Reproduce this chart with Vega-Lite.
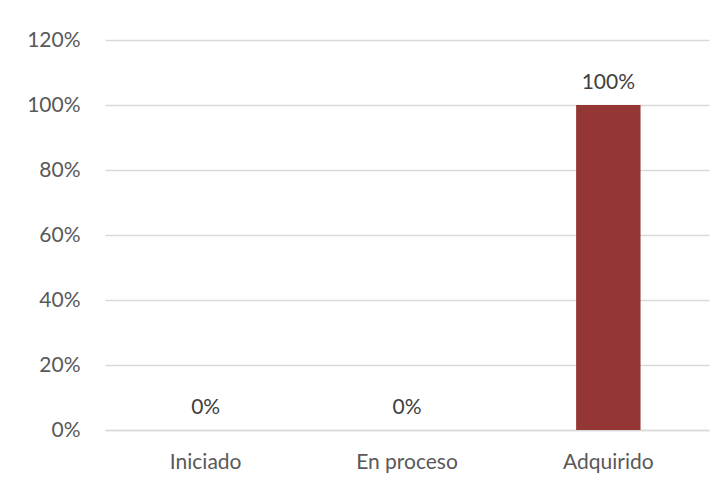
{
  "$schema": "https://vega.github.io/schema/vega-lite/v6.json",
  "width": 604,
  "height": 390,
  "autosize": {"type": "none"},
  "padding": {"left": 105, "top": 40, "right": 18, "bottom": 57},
  "background": "white",
  "config": {
    "font": "Lato",
    "view": {"stroke": null}
  },
  "data": {
    "values": [
      {"categoria": "Iniciado", "valor": 0},
      {"categoria": "En proceso", "valor": 0},
      {"categoria": "Adquirido", "valor": 1}
    ]
  },
  "encoding": {
    "x": {
      "field": "categoria",
      "type": "nominal",
      "sort": null,
      "scale": {"paddingInner": 0.68, "paddingOuter": 0.34},
      "axis": {
        "title": null,
        "labelAngle": 0,
        "labelFont": "Lato",
        "labelFontSize": 21,
        "labelFontWeight": 400,
        "labelColor": "#595959",
        "labelPadding": 21,
        "ticks": false,
        "domainColor": "#d9d9d9",
        "domainWidth": 1.5
      }
    },
    "y": {
      "field": "valor",
      "type": "quantitative",
      "scale": {"domain": [0, 1.2]},
      "axis": {
        "title": null,
        "format": ".0%",
        "values": [0, 0.2, 0.4, 0.6, 0.8, 1.0, 1.2],
        "labelFont": "Lato",
        "labelFontSize": 21,
        "labelFontWeight": 400,
        "labelColor": "#595959",
        "labelPadding": 25,
        "ticks": false,
        "domain": false,
        "gridColor": "#d9d9d9",
        "gridWidth": 1.5
      }
    }
  },
  "layer": [
    {"mark": {"type": "bar", "color": "#943634"}},
    {
      "mark": {"type": "text", "font": "Lato", "fontSize": 21, "fontWeight": 400, "color": "#404040", "baseline": "bottom", "dy": -12},
      "encoding": {"text": {"field": "valor", "type": "quantitative", "format": ".0%"}}
    }
  ]
}
